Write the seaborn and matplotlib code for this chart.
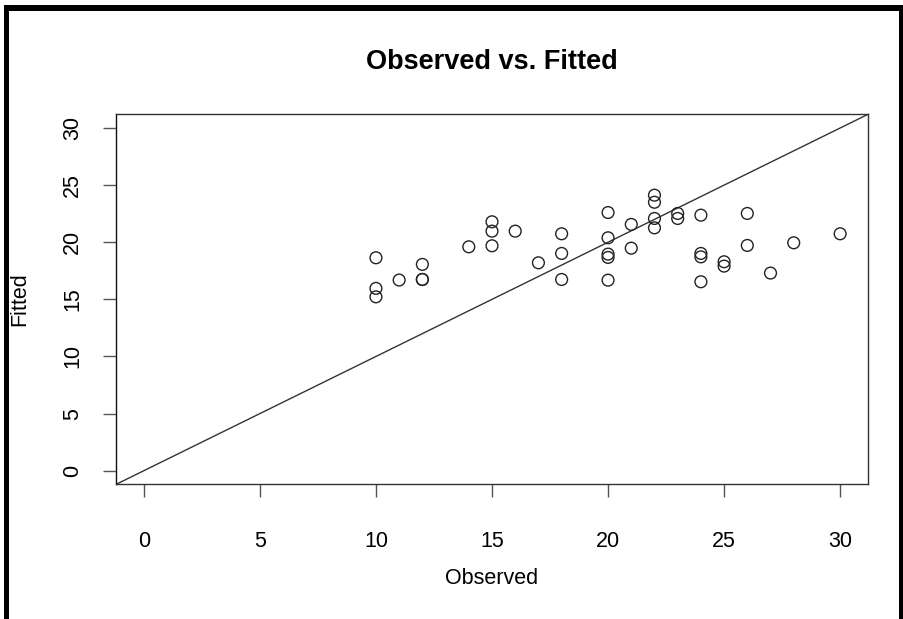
import matplotlib
matplotlib.use("Agg")
import matplotlib.pyplot as plt
import seaborn as sns
import pandas as pd
from matplotlib.lines import Line2D

observed = [10, 10, 10, 11, 12, 12, 12, 14, 15, 15, 15, 16, 17, 18, 18, 18,
            20, 20, 20, 20, 20, 21, 21, 22, 22, 22, 22, 23, 23,
            24, 24, 24, 24, 25, 25, 26, 26, 27, 28, 30]
fitted = [18.64, 15.96, 15.22, 16.69, 18.06, 16.74, 16.74, 19.60, 21.79, 20.97, 19.69, 20.97, 18.2, 20.74, 19.02, 16.74,
          22.6, 20.39, 18.96, 18.67, 16.68, 21.56, 19.48, 24.12, 23.5, 22.08, 21.26, 22.52, 22.08,
          22.37, 19.02, 18.72, 16.54, 18.29, 17.91, 22.52, 19.72, 17.3, 19.95, 20.74]
ticks = [0, 5, 10, 15, 20, 25, 30]
limits = [-1.2, 31.2]

df = pd.DataFrame({"Observed": observed, "Fitted": fitted})

sns.set_theme(style="white")
plt.rcParams["font.family"] = ["Liberation Sans", "DejaVu Sans"]
plt.rcParams["text.color"] = "black"
plt.rcParams["axes.labelcolor"] = "black"
plt.rcParams["xtick.color"] = "black"
plt.rcParams["ytick.color"] = "black"

fig = plt.figure(figsize=(9.04, 6.19), dpi=100)
W, H = 904, 619
ax = fig.add_axes([116 / W, 1 - 484.4 / H, (868 - 116) / W, (484.4 - 114.3) / H])

sns.scatterplot(data=df, x="Observed", y="Fitted", ax=ax, marker="o",
                facecolor="none", edgecolor="#222222", linewidth=1.0, s=72, zorder=3)
ax.plot(limits, limits, color="#333333", lw=1.0, zorder=2)

ax.set_xlim(limits)
ax.set_ylim(limits)
ax.set_xticks(ticks)
ax.set_yticks(ticks)
ax.set_xticklabels([str(t) for t in ticks], fontsize=15.5, color="black")
ax.set_yticklabels([str(t) for t in ticks], fontsize=15.5, rotation=90, va="center", color="black")
ax.tick_params(axis="both", direction="out", length=9.5, width=1.0, color="#555555",
               labelcolor="black", bottom=True, left=True)
ax.tick_params(axis="x", pad=24)
ax.tick_params(axis="y", pad=14)
for sp in ax.spines.values():
    sp.set_color("#333333")
    sp.set_linewidth(1.0)
ax.spines["left"].set_color("#111111")

ax.set_xlabel("Observed", fontsize=15.5, va="center", color="black")
ax.set_ylabel("Fitted", fontsize=15.5, va="center", color="black")
ax.xaxis.set_label_coords(0.5, -(578 - 484.4) / (484.4 - 114.3))
ax.yaxis.set_label_coords(-(116 - 20) / (868 - 116), 0.5)
ax.text(0.5, 1 + (114.3 - 62) / (484.4 - 114.3), "Observed vs. Fitted", transform=ax.transAxes,
        ha="center", va="center", fontsize=19.5, fontweight="bold", color="black")

# outer black frame (left, top, right)
fig.add_artist(Line2D([6.5 / W, 6.5 / W], [0, 1 - 5 / H], transform=fig.transFigure,
                      color="black", lw=5 * 0.72, solid_capstyle="butt"))
fig.add_artist(Line2D([4 / W, 1], [1 - 8 / H, 1 - 8 / H], transform=fig.transFigure,
                      color="black", lw=6 * 0.72, solid_capstyle="butt"))
fig.add_artist(Line2D([901 / W, 901 / W], [0, 1 - 5 / H], transform=fig.transFigure,
                      color="black", lw=4 * 0.72, solid_capstyle="butt"))

fig.savefig("out.png", dpi=100, facecolor="white")
